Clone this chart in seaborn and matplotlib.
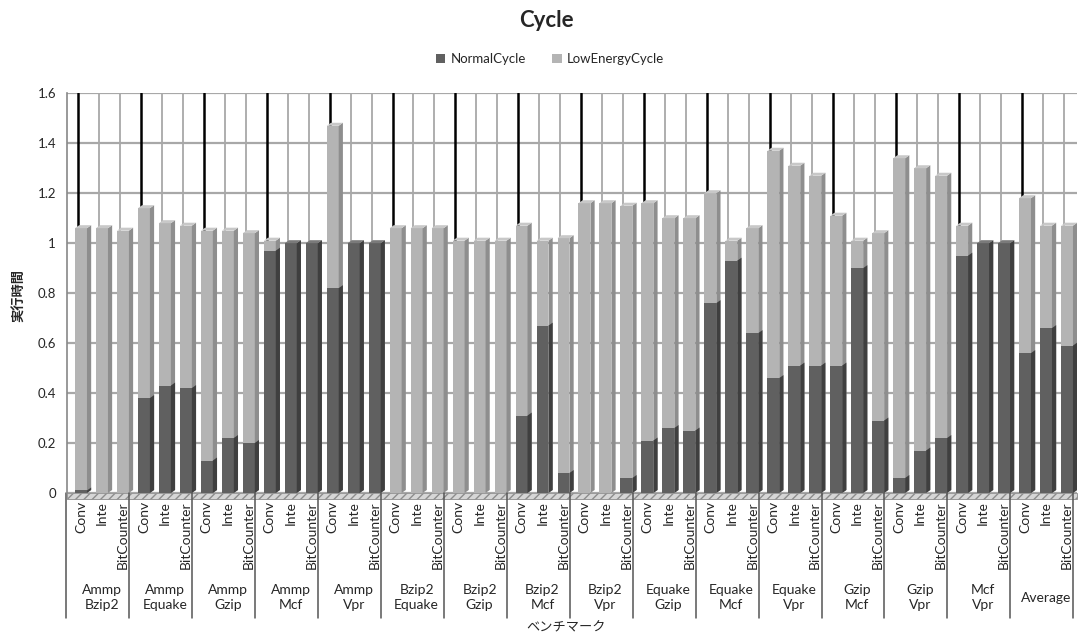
import numpy as np
import pandas as pd
import matplotlib
matplotlib.use("Agg")
import matplotlib.pyplot as plt
import matplotlib.transforms as mtransforms
from matplotlib.patches import Patch, Rectangle
import seaborn as sns

# ---- data -------------------------------------------------------------
groups = ["Ammp\nBzip2", "Ammp\nEquake", "Ammp\nGzip", "Ammp\nMcf", "Ammp\nVpr",
          "Bzip2\nEquake", "Bzip2\nGzip", "Bzip2\nMcf", "Bzip2\nVpr",
          "Equake\nGzip", "Equake\nMcf", "Equake\nVpr", "Gzip\nMcf", "Gzip\nVpr",
          "Mcf\nVpr", "Average"]
methods = ["Conv", "Inte", "BitCounter"]

normal_cycle = [
    0.01, 0.00, 0.00,
    0.38, 0.43, 0.42,
    0.13, 0.22, 0.20,
    0.97, 1.00, 1.00,
    0.82, 1.00, 1.00,
    0.00, 0.00, 0.00,
    0.00, 0.00, 0.00,
    0.31, 0.67, 0.08,
    0.00, 0.00, 0.06,
    0.21, 0.26, 0.25,
    0.76, 0.93, 0.64,
    0.46, 0.51, 0.51,
    0.51, 0.90, 0.29,
    0.06, 0.17, 0.22,
    0.95, 1.00, 1.00,
    0.56, 0.66, 0.59,
]
low_energy_cycle = [
    1.05, 1.06, 1.05,
    0.76, 0.65, 0.65,
    0.92, 0.83, 0.84,
    0.04, 0.00, 0.00,
    0.65, 0.00, 0.00,
    1.06, 1.06, 1.06,
    1.01, 1.01, 1.01,
    0.76, 0.34, 0.94,
    1.16, 1.16, 1.09,
    0.95, 0.84, 0.85,
    0.44, 0.08, 0.42,
    0.91, 0.80, 0.76,
    0.60, 0.11, 0.75,
    1.28, 1.13, 1.05,
    0.12, 0.00, 0.00,
    0.62, 0.41, 0.48,
]
y_ticks = [0, 0.2, 0.4, 0.6, 0.8, 1.0, 1.2, 1.4, 1.6]

# ---- styling ----------------------------------------------------------
sns.set_theme(style="white")
plt.rcParams["font.family"] = ["Lato", "Noto Sans CJK JP", "DejaVu Sans"]

dark = "#606060"
light = "#b4b4b4"
dark_side = "#3f3f3f"
light_side = "#8e8e8e"
dark_top = "#7a7a7a"
light_top = "#c8c8c8"
grid_col = "#a8a8a8"

df = pd.DataFrame({
    "key": [f"{g}|{m}" for g in groups for m in methods],
    "normal": normal_cycle,
    "low": low_energy_cycle,
})
df["total"] = df["normal"] + df["low"]
order = list(df["key"])
n = len(df)
xs = np.arange(n)

fig = plt.figure(figsize=(10.83, 6.39), dpi=100)
ax = fig.add_axes([0.062, 0.2285, 0.9325, 0.6255])

# back-wall grid
for yv in y_ticks:
    ax.axhline(yv, color=grid_col, lw=1.6, zorder=0)
for i in xs:
    is_group_start = (i % 3 == 0)
    ax.plot([i - 0.15, i - 0.15], [0, 1.6],
            color="black" if is_group_start else grid_col,
            lw=1.8 if is_group_start else 1.3, zorder=0.5)

bw = 0.57
# stacked bars: total in light grey, NormalCycle part overlaid in dark grey
sns.barplot(data=df, x="key", y="total", order=order, color=light, width=bw,
            saturation=1, ax=ax, zorder=2, linewidth=0)
sns.barplot(data=df, x="key", y="normal", order=order, color=dark, width=bw,
            saturation=1, ax=ax, zorder=3, linewidth=0)

# 3-D side and top faces
d = 0.2
dy = 0.012
for i, (nv, tv) in enumerate(zip(df["normal"], df["total"])):
    xr = i + bw / 2
    xl = i - bw / 2
    ax.fill([xr, xr + d, xr + d, xr], [0, dy, tv + dy, tv],
            color=light_side, zorder=2, lw=0)
    if nv > 0:
        ax.fill([xr, xr + d, xr + d, xr], [0, dy, nv + dy, nv],
                color=dark_side, zorder=3, lw=0)
    top_col = light_top if tv - nv > 0.005 else dark_top
    ax.fill([xl, xl + d, xr + d, xr], [tv, tv + dy, tv + dy, tv],
            color=top_col, zorder=3, lw=0)

ax.set_xlim(-0.66, 47.48)
ax.set_ylim(0, 1.6)
ax.set_yticks(y_ticks)
ax.set_yticklabels(["0", "0.2", "0.4", "0.6", "0.8", "1", "1.2", "1.4", "1.6"],
                   fontsize=9.5)
ax.set_xticks(xs)
ax.set_xticklabels(methods * len(groups), rotation=90, fontsize=10,
                   va="top", ha="center")
ax.tick_params(axis="x", length=0, pad=6)
ax.tick_params(axis="y", length=0, pad=8)
ax.set_xlabel("")
ax.set_ylabel("")
for s in ["top", "right", "bottom"]:
    ax.spines[s].set_visible(False)
ax.spines["left"].set_color("#888888")
ax.spines["left"].set_linewidth(1.2)

# floor strip
trans = mtransforms.blended_transform_factory(ax.transData, ax.transAxes)
ax.add_patch(Rectangle((-0.66, -0.014), 48.14, 0.014, transform=trans,
                       facecolor="#d6d6d6", edgecolor="#8c8c8c", lw=0.6,
                       hatch="////", clip_on=False, zorder=1))

# group labels and separators
for g, name in enumerate(groups):
    ax.text(g * 3 + 1, -0.2625, name, transform=trans, ha="center", va="center",
            fontsize=10, linespacing=1.3)
for g in range(len(groups) + 1):
    xsep = g * 3 - 0.7
    ax.plot([xsep, xsep], [0, -0.3125], transform=trans, color="#555555",
            lw=1.1, clip_on=False)

# titles and legend
fig.text(0.505, 0.968, "Cycle", ha="center", va="center", fontsize=16,
         fontweight="bold")
fig.text(0.523, 0.018, "ベンチマーク", ha="center", va="center", fontsize=9.5,
         family=["Noto Sans CJK JP", "DejaVu Sans"])
fig.text(0.018, 0.538, "実行時間", ha="center", va="center", rotation=90,
         fontsize=9.5, fontweight="bold", family=["Noto Sans CJK JP", "DejaVu Sans"])

handles = [Patch(facecolor=dark, edgecolor="none", label="NormalCycle"),
           Patch(facecolor=light, edgecolor="none", label="LowEnergyCycle")]
fig.legend(handles=handles, loc="center", bbox_to_anchor=(0.508, 0.908), ncol=2,
           frameon=False, fontsize=9.5, handlelength=0.7, handleheight=0.7,
           handletextpad=0.4, columnspacing=2.0)

fig.savefig("out.png", dpi=100, facecolor="white")
